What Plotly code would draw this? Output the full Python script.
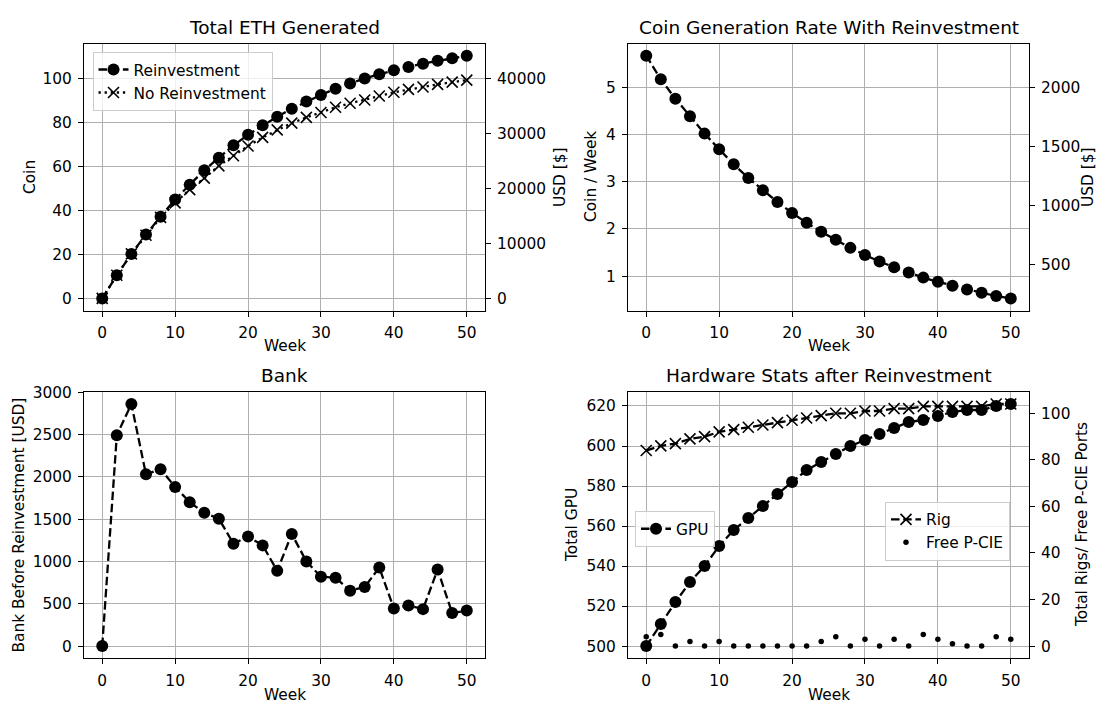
import plotly.graph_objects as go

# ---------------- data ----------------
WEEKS = list(range(0, 51, 2))

ETH_REINVEST = [0, 10.5, 20.2, 29.0, 37.1, 44.9, 51.6, 58.2, 63.9, 69.5, 74.3, 78.6, 82.5,
                86.1, 89.4, 92.4, 95.2, 97.6, 99.9, 101.8, 103.6, 105.1, 106.6, 107.9, 109.1, 110.2]
ETH_NO_REINVEST = [0, 10.5, 20.2, 28.7, 36.8, 43.4, 49.4, 54.6, 60.2, 64.8, 69.2, 73.1, 76.5,
                   79.6, 82.2, 84.4, 86.8, 88.6, 90.1, 91.9, 93.6, 94.9, 96.0, 97.2, 98.2, 99.1]
COIN_RATE = [5.67, 5.17, 4.76, 4.39, 4.02, 3.69, 3.37, 3.08, 2.82, 2.57, 2.34, 2.13, 1.94,
             1.77, 1.60, 1.45, 1.31, 1.19, 1.08, 0.97, 0.88, 0.80, 0.72, 0.65, 0.58, 0.53]
BANK_USD = [0, 2490, 2860, 2030, 2090, 1880, 1700, 1575, 1505, 1210, 1295, 1190, 890,
            1325, 1000, 820, 808, 655, 698, 928, 445, 480, 437, 905, 390, 421]
TOTAL_GPU = [500, 511, 522, 532, 540, 550, 558, 564, 570, 576, 582, 588, 592,
             596, 600, 603, 606, 609, 612, 613, 615, 617, 618, 618, 620, 621]
TOTAL_RIGS = [84, 86, 87, 89, 90, 92, 93, 94, 95, 96, 97, 98, 99,
              100, 100, 101, 101, 102, 102, 103, 103, 103, 103, 103, 104, 104]
FREE_PCIE = [4, 5, 0, 2, 0, 2, 0, 0, 0, 0, 0, 0, 2, 4, 0, 3, 0, 3, 0, 5, 3, 1, 0, 0, 4, 3]
ETH_PRICE_USD = 400

X_TICKS = [0, 10, 20, 30, 40, 50]
COIN_TICKS = [0, 20, 40, 60, 80, 100]
USD_TOTAL_TICKS = [0, 10000, 20000, 30000, 40000]
RATE_TICKS = [1, 2, 3, 4, 5]
USD_RATE_TICKS = [500, 1000, 1500, 2000]
BANK_TICKS = [0, 500, 1000, 1500, 2000, 2500, 3000]
GPU_TICKS = [500, 520, 540, 560, 580, 600, 620]
RIG_TICKS = [0, 20, 40, 60, 80, 100]

# ---------------- styling ----------------
W, H = 1099, 704
FONT = "DejaVu Sans"
TICK_PX = 15.4
TITLE_PX = 18.5
LW = 2.3
DASH = "8.5px,3.7px"
DOT = "2.3px,3.8px"
GRID = "#b0b0b0"


def px_x(p):
    return p / W


def px_y(p):
    return 1 - p / H


COL_L = [px_x(84), px_x(485)]
COL_R = [px_x(628), px_x(1029)]
ROW_T = [px_y(306), px_y(36)]
ROW_B = [px_y(657.7), px_y(388.3)]


def auto_range(*series):
    lo = min(min(s) for s in series)
    hi = max(max(s) for s in series)
    span = hi - lo
    return [lo - 0.05 * span, hi + 0.05 * span]


def tickfont():
    return dict(family=FONT, size=TICK_PX, color="black")


COMMON_TICKS = dict(ticks="outside", ticklen=5, tickwidth=1.2, tickcolor="black",
                    tickfont=tickfont(), ticklabelstandoff=3, tickformat="d")


def xax(domain, anchor):
    return dict(domain=domain, anchor=anchor, range=[-2.5, 52.5], tickvals=X_TICKS,
                showgrid=True, gridcolor=GRID, gridwidth=1.2, zeroline=False,
                showline=True, linecolor="black", linewidth=1.2, mirror=True,
                **COMMON_TICKS)


def yax(domain, anchor, rng, ticks):
    return dict(domain=domain, anchor=anchor, range=rng, tickvals=ticks,
                showgrid=True, gridcolor=GRID, gridwidth=1.2, zeroline=False,
                showline=True, linecolor="black", linewidth=1.2, mirror=True,
                **COMMON_TICKS)


def yax2(overlay, anchor, rng, ticks):
    return dict(overlaying=overlay, anchor=anchor, side="right", range=rng, tickvals=ticks,
                showgrid=False, zeroline=False, showline=False,
                **COMMON_TICKS)


fig = go.Figure()

# ---- Total ETH generated ----
fig.add_trace(go.Scatter(x=WEEKS, y=ETH_REINVEST, name="Reinvestment", xaxis="x", yaxis="y",
                         mode="lines+markers", line=dict(color="black", width=LW, dash=DASH),
                         marker=dict(symbol="circle", size=12, color="black"), legend="legend"))
fig.add_trace(go.Scatter(x=WEEKS, y=ETH_NO_REINVEST, name="No Reinvestment", xaxis="x", yaxis="y",
                         mode="lines+markers", line=dict(color="black", width=LW, dash=DOT),
                         marker=dict(symbol="x-thin", size=11, color="black",
                                     line=dict(color="black", width=1.6)), legend="legend"))
fig.add_trace(go.Scatter(x=WEEKS, y=[v * ETH_PRICE_USD for v in ETH_REINVEST], xaxis="x", yaxis="y5",
                         mode="lines", line=dict(width=0), opacity=0, showlegend=False,
                         hoverinfo="skip"))

# ---- Coin generation rate ----
fig.add_trace(go.Scatter(x=WEEKS, y=COIN_RATE, name="Rate", xaxis="x2", yaxis="y2",
                         mode="lines+markers", line=dict(color="black", width=LW, dash=DASH),
                         marker=dict(symbol="circle", size=12, color="black"), showlegend=False))
fig.add_trace(go.Scatter(x=WEEKS, y=[v * ETH_PRICE_USD for v in COIN_RATE], xaxis="x2", yaxis="y6",
                         mode="lines", line=dict(width=0), opacity=0, showlegend=False,
                         hoverinfo="skip"))

# ---- Bank ----
fig.add_trace(go.Scatter(x=WEEKS, y=BANK_USD, name="Bank", xaxis="x3", yaxis="y3",
                         mode="lines+markers", line=dict(color="black", width=LW, dash=DASH),
                         marker=dict(symbol="circle", size=12, color="black"), showlegend=False))

# ---- Hardware ----
fig.add_trace(go.Scatter(x=WEEKS, y=TOTAL_GPU, name="GPU", xaxis="x4", yaxis="y4",
                         mode="lines+markers", line=dict(color="black", width=LW, dash=DASH),
                         marker=dict(symbol="circle", size=12, color="black"), legend="legend2"))
fig.add_trace(go.Scatter(x=WEEKS, y=TOTAL_RIGS, name="Rig", xaxis="x4", yaxis="y7",
                         mode="lines+markers", line=dict(color="black", width=LW, dash=DASH),
                         marker=dict(symbol="x-thin", size=11, color="black",
                                     line=dict(color="black", width=1.6)), legend="legend3"))
fig.add_trace(go.Scatter(x=WEEKS, y=FREE_PCIE, name="Free P-CIE", xaxis="x4", yaxis="y7",
                         mode="markers", marker=dict(symbol="circle", size=5.5, color="black"),
                         legend="legend3"))

r_coin = auto_range(ETH_REINVEST, ETH_NO_REINVEST)
r_rate = auto_range(COIN_RATE)
r_bank = auto_range(BANK_USD)
r_gpu = auto_range(TOTAL_GPU)
r_rig = auto_range(TOTAL_RIGS, FREE_PCIE)

legend_common = dict(bgcolor="rgba(255,255,255,0.8)", bordercolor="#cccccc", borderwidth=1,
                     font=dict(family=FONT, size=TICK_PX, color="black"),
                     xanchor="left", yanchor="top", itemwidth=30, tracegroupgap=0)

annotations = []


def label(text, x, y, size=TICK_PX, angle=0):
    annotations.append(dict(text=text, x=px_x(x), y=px_y(y), xref="paper", yref="paper",
                            xanchor="center", yanchor="middle", showarrow=False,
                            textangle=angle, font=dict(family=FONT, size=size, color="black")))


# titles
label("Total ETH Generated", 284.5, 20, TITLE_PX)
label("Coin Generation Rate With Reinvestment", 828.5, 20, TITLE_PX)
label("Bank", 284.5, 372, TITLE_PX)
label("Hardware Stats after Reinvestment", 828.5, 372, TITLE_PX)
# x labels
label("Week", 284.5, 342)
label("Week", 828.5, 342)
label("Week", 284.5, 695)
label("Week", 828.5, 695)
# y labels
label("Coin", 30, 171, angle=-90)
label("USD [$]", 560, 171, angle=-90)
label("Coin / Week", 591, 171, angle=-90)
label("USD [$]", 1088, 171, angle=-90)
label("Bank Before Reinvestment [USD]", 19.5, 523, angle=-90)
label("Total GPU", 572, 523, angle=-90)
label("Total Rigs/ Free P-CIE Ports", 1082, 523, angle=-90)

fig.update_layout(
    width=W, height=H,
    margin=dict(l=0, r=0, t=0, b=0),
    paper_bgcolor="white", plot_bgcolor="white",
    font=dict(family=FONT, size=TICK_PX, color="black"),
    xaxis=xax(COL_L, "y"),
    yaxis=yax(ROW_T, "x", r_coin, COIN_TICKS),
    yaxis5=yax2("y", "x", [v * ETH_PRICE_USD for v in r_coin], USD_TOTAL_TICKS),
    xaxis2=xax(COL_R, "y2"),
    yaxis2=yax(ROW_T, "x2", r_rate, RATE_TICKS),
    yaxis6=yax2("y2", "x2", [v * ETH_PRICE_USD for v in r_rate], USD_RATE_TICKS),
    xaxis3=xax(COL_L, "y3"),
    yaxis3=yax(ROW_B, "x3", r_bank, BANK_TICKS),
    xaxis4=xax(COL_R, "y4"),
    yaxis4=yax(ROW_B, "x4", r_gpu, GPU_TICKS),
    yaxis7=yax2("y4", "x4", r_rig, RIG_TICKS),
    legend=dict(x=px_x(92.5), y=px_y(44.5), **legend_common),
    legend2=dict(x=px_x(635), y=px_y(509), **legend_common),
    legend3=dict(x=px_x(885), y=px_y(499.5), **legend_common),
    annotations=annotations,
    showlegend=True,
)

fig.write_html("out.html")
